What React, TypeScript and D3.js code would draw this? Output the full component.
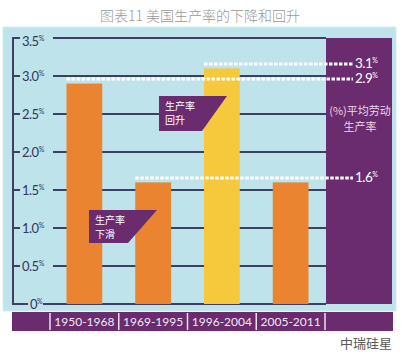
import React from "react";
import * as d3 from "d3";

const categories = ["1950-1968", "1969-1995", "1996-2004", "2005-2011"];
const values = [2.9, 1.6, 3.1, 1.6];
const barColors = ["#ea8430", "#ea8430", "#f6c93c", "#ea8430"];
const yTicks = [0, 0.5, 1.0, 1.5, 2.0, 2.5, 3.0, 3.5];
const yTickLabels = ["0", "0.5", "1.0", "1.5", "2.0", "2.5", "3.0", "3.5"];
const refLines = [
  { value: 3.1, label: "3.1", fromIndex: 2 },
  { value: 2.9, label: "2.9", fromIndex: 0 },
  { value: 1.6, label: "1.6", fromIndex: 1 },
];
const title = "图表11  美国生产率的下降和回升";
const sideLabel = ["(%)平均劳动", "生产率"];
const notes = [
  { lines: ["生产率", "回升"], x: 159, y: 96, w: 68, h: 35, slant: 25 },
  { lines: ["生产率", "下滑"], x: 89, y: 210, w: 68, h: 33, slant: 29 },
];

const PURPLE = "#6a2b6f";
const BLUE = "#bee3ea";
const GRID = "#3e3f66";

export default function App() {
  const W = 401, H = 355;
  const x = d3.scaleBand<string>().domain(categories).range([50, 325]).paddingInner(0.48).paddingOuter(0.24);
  const y = d3.scaleLinear().domain([0, 3.5]).range([304, 38]);
  const step = x.step();
  const bandEdges = categories.map((c) => (x(c) as number) - x.paddingInner() * step / 2);
  const dividers = [...bandEdges, 325];

  return (
    <svg width={W} height={H} style={{ position: "absolute", left: 0, top: 0, fontFamily: "'Noto Sans CJK SC', 'Noto Sans', sans-serif" }}>
      <rect x={0} y={0} width={W} height={H} fill="#ffffff" />
      <text x={200} y={21} textAnchor="middle" fontSize={14} fill="#999999" fontWeight={300}>{title}</text>
      {/* blue panel */}
      <rect x={3} y={27} width={393} height={284} fill={BLUE} stroke="#d3edf2" strokeWidth={1} />
      {/* right purple panel */}
      <rect x={326} y={38} width={66} height={266} fill={PURPLE} />
      {/* gridlines */}
      {yTicks.map((t, i) => (
        <line key={"g" + i} x1={t === 0 ? 43 : 53} x2={326} y1={y(t)} y2={y(t)} stroke={GRID} strokeWidth={2} />
      ))}
      {/* axis */}
      <line x1={13} x2={13} y1={y(3.5) - 1} y2={y(0) + 1} stroke={GRID} strokeWidth={2} />
      {yTicks.map((t, i) => (
        <line key={"t" + i} x1={12} x2={t === 0 ? 28 : 20} y1={y(t)} y2={y(t)} stroke={GRID} strokeWidth={2} />
      ))}
      {yTicks.map((t, i) => (
        <text key={"l" + i} x={t === 0 ? 30 : 22} y={y(t) + (t === 3.5 ? 8 : 5)} fontSize={13} fill="#34375a" fontFamily="Lato, 'Liberation Sans', Arial, sans-serif" letterSpacing={-0.5}>
          {yTickLabels[i]}
          <tspan fontSize={7} dy={-5}>%</tspan>
        </text>
      ))}
      {/* bars */}
      {categories.map((c, i) => (
        <rect key={"b" + i} x={x(c)} y={y(values[i])} width={x.bandwidth()} height={y(0) - y(values[i])} fill={barColors[i]} />
      ))}
      {/* dashed reference lines */}
      {refLines.map((r, i) => (
        <g key={"r" + i}>
          <line x1={x(categories[r.fromIndex]) as number} x2={353} y1={y(r.value) - 4.5} y2={y(r.value) - 4.5}
            stroke="#ffffff" strokeWidth={3} strokeDasharray="3.5,1.5" />
          <text x={355} y={y(r.value) - 0.5} fontSize={13.5} fill="#ffffff" fontFamily="Lato, 'Liberation Sans', Arial, sans-serif" letterSpacing={-0.5}>
            {r.label}
            <tspan fontSize={7} dy={-5}>%</tspan>
          </text>
        </g>
      ))}
      {/* side label */}
      {sideLabel.map((s, i) => (
        <text key={"s" + i} x={360} y={115 + i * 16} textAnchor="middle" fontSize={11} fill="#e6d8ea">{s}</text>
      ))}
      {/* annotations */}
      {notes.map((n, i) => (
        <g key={"n" + i}>
          <path d={`M${n.x},${n.y}L${n.x + n.w},${n.y}L${n.x + n.w - n.slant},${n.y + n.h}L${n.x},${n.y + n.h}Z`} fill={PURPLE} />
          {n.lines.map((l, j) => (
            <text key={j} x={n.x + 6} y={n.y + 14 + j * 14} fontSize={10} fill="#ffffff">{l}</text>
          ))}
        </g>
      ))}
      {/* bottom band */}
      <rect x={12} y={312} width={381} height={19} fill={PURPLE} />
      {dividers.map((d, i) => (
        <line key={"d" + i} x1={d} x2={d} y1={313} y2={330} stroke="#ece3ef" strokeWidth={1.5} />
      ))}
      {categories.map((c, i) => (
        <text key={"c" + i} x={(x(c) as number) + x.bandwidth() / 2} y={326} textAnchor="middle" fontSize={12} fill="#f1eaf3" fontFamily="Lato, 'Liberation Sans', Arial, sans-serif">{c}</text>
      ))}
      {/* watermark */}
      <text x={392} y={348} textAnchor="end" fontSize={13} fill="#5a5a5a">中瑞硅星</text>
    </svg>
  );
}
